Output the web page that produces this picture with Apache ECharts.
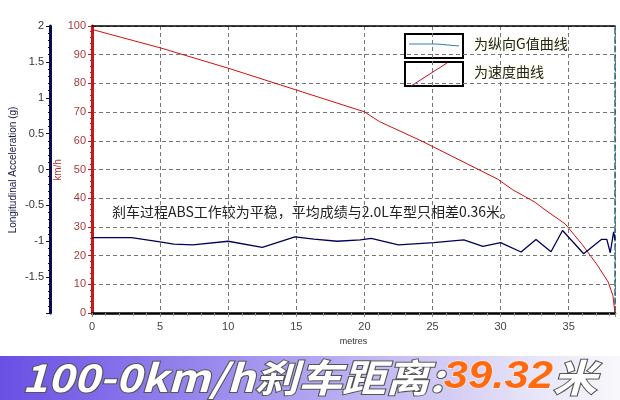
<!DOCTYPE html>
<html>
<head>
<meta charset="utf-8">
<script src="https://cdn.jsdelivr.net/npm/echarts@6/dist/echarts.min.js"></script>
<style>
  html, body { margin: 0; padding: 0; background: #fff; }
  #chart { width: 620px; height: 400px; }
</style>
</head>
<body>
<div id="chart"></div>
<script>
// distance (m) vs speed (km/h)
const speedPoints = [
  [0, 98.8], [5, 92.4], [10, 85.3], [15, 77.7], [20, 70.1], [21.1, 66.7],
  [24.3, 59.7], [29.8, 46.6], [30.9, 42.9], [32.5, 38.7], [33.1, 36.5],
  [34.75, 31.0], [36.0, 23.8], [37.1, 16.7], [37.9, 10.8], [38.25, 6.0], [38.4, 0]
]
// distance (m) vs longitudinal acceleration (g)
const gPoints = [
  [0, -0.95], [2.9, -0.95], [5.0, -1.01], [6.0, -1.04], [7.4, -1.05], [10.0, -1.0],
  [12.5, -1.085], [14.9, -0.94], [16.3, -0.97], [18.0, -1.0], [19.7, -0.98],
  [20.5, -0.96], [22.5, -1.05], [25.1, -1.02], [27.3, -0.98], [28.7, -1.07],
  [30.0, -1.02], [31.5, -1.15], [32.6, -0.975], [33.7, -1.147], [34.55, -0.85],
  [36.1, -1.175], [37.4, -0.975], [37.8, -0.975], [38.05, -1.16], [38.3, -0.87], [38.4, -0.98]
]
const legendNames = ['为纵向G值曲线', '为速度曲线']
const speedAxisName = 'km/h'
const gAxisName = 'Longitudinal Acceleration (g)'
const noteText = '刹车过程ABS工作较为平稳，平均成绩与2.0L车型只相差0.36米。'
const bannerLeft = '100-0km/h刹车距离:'
const bannerValue = '39.32'
const bannerUnit = '米'

const chart = echarts.init(document.getElementById('chart'))

const option = {
  backgroundColor: '#fff',
  animation: false,
  grid: { left: 92, right: 5, top: 26, bottom: 87, outerBoundsMode: 'none' },
  xAxis: [
    {
      type: 'value', min: 0, max: 38.4, interval: 5,
      name: 'metres', nameLocation: 'middle', nameGap: 22,
      nameTextStyle: { fontSize: 9, color: '#333', fontFamily: 'Liberation Sans' },
      axisLine: { show: true, onZero: false, lineStyle: { color: '#000', width: 2.5 } },
      axisTick: { show: true, length: 4, lineStyle: { color: '#888' } },
      minorTick: { show: true, splitNumber: 5, length: 3, lineStyle: { color: '#999' } },
      axisLabel: { color: '#444', fontSize: 11, fontFamily: 'Liberation Sans', showMaxLabel: false, margin: 8 },
      splitLine: { show: true, lineStyle: { color: '#777', type: [4, 3] } }
    },
    {
      type: 'value', position: 'top', min: 0, max: 38.4,
      axisLine: { show: true, onZero: false, lineStyle: { color: '#000', width: 1.5 } },
      axisTick: { show: false }, axisLabel: { show: false }, splitLine: { show: false }
    }
  ],
  yAxis: [
    {
      type: 'value', min: 0, max: 100, interval: 10, position: 'left',
      axisLine: { show: true, onZero: false, lineStyle: { color: '#c81818', width: 3 } },
      axisTick: { show: true, length: 4, lineStyle: { color: '#c81818' } },
      minorTick: { show: true, splitNumber: 5, length: 2, lineStyle: { color: '#c81818' } },
      axisLabel: { color: '#a83a3a', fontSize: 11, fontFamily: 'Liberation Sans', margin: 6 },
      splitLine: { show: true, lineStyle: { color: '#777', type: [4, 3] } }
    },
    {
      type: 'value', min: -2, max: 2, interval: 0.5, position: 'left', offset: 42,
      axisLine: { show: true, onZero: false, lineStyle: { color: '#0a0a50', width: 3 } },
      axisTick: { show: true, length: 4, lineStyle: { color: '#0a0a50' } },
      minorTick: { show: true, splitNumber: 5, length: 2, lineStyle: { color: '#0a0a50' } },
      axisLabel: {
        color: '#333', fontSize: 11, fontFamily: 'Liberation Sans', margin: 6,
        formatter: v => (v === -2 ? '' : String(v))
      },
      splitLine: { show: false }
    },
    {
      type: 'value', min: 0, max: 100, position: 'right',
      axisLine: { show: true, onZero: false, lineStyle: { color: '#2a6a80', width: 1.5, type: [6, 3] } },
      axisTick: { show: false }, axisLabel: { show: false }, splitLine: { show: false }
    }
  ],
  series: [
    {
      name: legendNames[1], type: 'line', xAxisIndex: 0, yAxisIndex: 0,
      data: speedPoints, showSymbol: false,
      lineStyle: { color: '#d41010', width: 1 }
    },
    {
      name: legendNames[0], type: 'line', xAxisIndex: 0, yAxisIndex: 1,
      data: gPoints, showSymbol: false,
      lineStyle: { color: '#000058', width: 1.3 }
    }
  ],
  graphic: [
    // axis names
    { type: 'text', x: 58, y: 170, rotation: Math.PI / 2,
      style: { text: speedAxisName, fill: '#c03030', font: '10px "Liberation Sans"', align: 'center', verticalAlign: 'middle' } },
    { type: 'text', x: 13, y: 170, rotation: Math.PI / 2,
      style: { text: gAxisName, fill: '#1a1a40', font: '10px "Liberation Sans"', align: 'center', verticalAlign: 'middle' } },
    // legend boxes
    { type: 'rect', shape: { x: 405, y: 34, width: 58, height: 24 },
      style: { fill: '#fff', stroke: '#000', lineWidth: 2 } },
    { type: 'polyline', shape: { points: [[409, 44], [437, 44], [459, 46]] },
      style: { stroke: '#2f7fb8', lineWidth: 1, fill: null } },
    { type: 'rect', shape: { x: 405, y: 62, width: 58, height: 24 },
      style: { fill: '#fff', stroke: '#000', lineWidth: 2 } },
    { type: 'line', shape: { x1: 411, y1: 86, x2: 447, y2: 63 },
      style: { stroke: '#c01030', lineWidth: 1 } },
    { type: 'text', left: 474, top: 37,
      style: { text: legendNames[0], fill: '#222', font: '14px "Noto Sans CJK SC"', backgroundColor: '#fffff0' } },
    { type: 'text', left: 474, top: 65,
      style: { text: legendNames[1], fill: '#222', font: '14px "Noto Sans CJK SC"', backgroundColor: '#fffff0' } },
    // note
    { type: 'text', left: 112, top: 205,
      style: { text: noteText, fill: '#222', font: '14px "Noto Sans CJK SC"' } },
    // banner
    { type: 'rect', shape: { x: 0, y: 356, width: 620, height: 44 },
      style: { fill: new echarts.graphic.LinearGradient(0, 0, 1, 0, [
        { offset: 0, color: '#6a4fe4' }, { offset: 0.45, color: '#a99cf0' },
        { offset: 0.85, color: '#e6e3f8' }, { offset: 1, color: '#f8f8fc' }
      ]) } },
    { type: 'text', x: 22, y: 359, scaleX: 1.15,
      style: {
        text: '{a|' + bannerLeft + '}{b|' + bannerValue + '}{a|' + bannerUnit + '}',
        rich: {
          a: { fill: '#fff', fontSize: 38, fontWeight: 'bold', fontStyle: 'italic',
               fontFamily: '"Noto Sans CJK SC", "Liberation Sans"', stroke: '#555', lineWidth: 2 },
          b: { fill: '#ff6a10', fontSize: 38, fontWeight: 'bold', fontStyle: 'italic',
               fontFamily: '"Liberation Sans"', stroke: '#fff', lineWidth: 1 }
        }
      } }
  ]
}

chart.setOption(option)
</script>
</body>
</html>
